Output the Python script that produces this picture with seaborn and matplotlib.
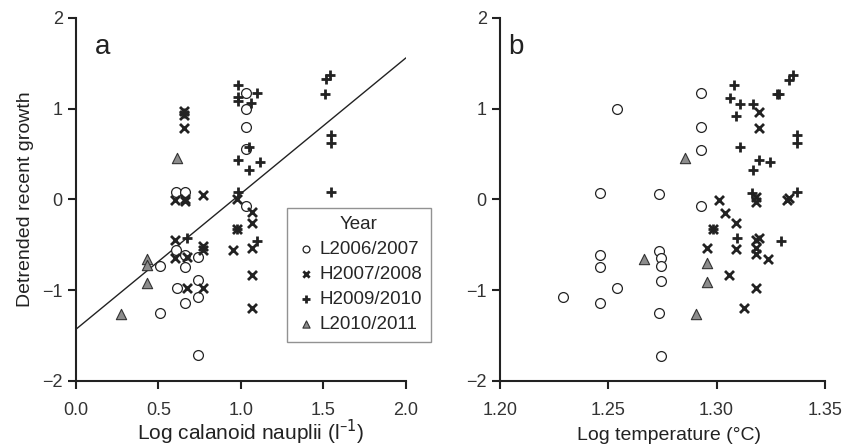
import numpy as np
import pandas as pd
import seaborn as sns
import matplotlib.pyplot as plt

groups = ['L2006/2007', 'H2007/2008', 'H2009/2010', 'L2010/2011']

# panel a: log calanoid nauplii vs detrended recent growth
a_l06_x = [0.606, 0.66, 0.606, 0.66, 0.66, 0.74, 0.51, 0.61, 0.74, 0.66, 0.74, 0.51, 0.74,
           1.03, 1.03, 1.03, 1.03, 1.03]
a_l06_y = [0.08, 0.08, -0.56, -0.61, -0.74, -0.63, -0.73, -0.97, -0.89, -1.14, -1.07, -1.25, -1.71,
           1.17, 1.0, 0.80, 0.56, -0.07]
a_h07_x = [0.656, 0.656, 0.656, 0.6, 0.66, 0.66, 0.77, 0.6, 0.6, 0.67, 0.77, 0.77, 0.67, 0.77,
           0.974, 1.065, 1.065, 0.974, 0.95, 1.065, 1.065, 1.065]
a_h07_y = [0.97, 0.93, 0.79, -0.01, 0.01, -0.02, 0.05, -0.45, -0.64, -0.63, -0.51, -0.56, -0.97, -0.97,
           0.01, -0.14, -0.26, -0.33, -0.56, -0.53, -0.83, -1.2]
a_h09_x = [0.98, 0.98, 0.98, 1.095, 1.06, 1.05, 0.98, 1.05, 1.115, 0.98,
           1.54, 1.515, 1.51, 1.543, 1.543, 1.543, 0.67, 1.1, 0.974, 0.656]
a_h09_y = [1.26, 1.13, 1.08, 1.17, 1.06, 0.58, 0.43, 0.32, 0.41, 0.08,
           1.37, 1.33, 1.16, 0.71, 0.62, 0.08, -0.42, -0.46, -0.33, 0.95]
a_l10_x = [0.614, 0.43, 0.43, 0.43, 0.27]
a_l10_y = [0.46, -0.66, -0.72, -0.92, -1.26]

# panel b: log temperature vs detrended recent growth
b_l06_x = [1.2463, 1.2463, 1.254, 1.2293, 1.2463, 1.254, 1.2463, 1.293, 1.293, 1.293,
           1.2736, 1.293, 1.2736, 1.2745, 1.2745, 1.2745, 1.2736, 1.2745]
b_l06_y = [-0.61, -0.74, -0.98, -1.08, -1.14, 1.0, 0.07, 1.17, 0.80, 0.55,
           0.06, -0.07, -0.57, -0.64, -0.73, -0.9, -1.25, -1.72]
b_h07_x = [1.3196, 1.3196, 1.301, 1.304, 1.3088, 1.2985, 1.318, 1.318, 1.3327, 1.3335, 1.3196,
           1.2957, 1.3088, 1.318, 1.318, 1.318, 1.3236, 1.3057, 1.318, 1.3126]
b_h07_y = [0.96, 0.79, -0.01, -0.15, -0.26, -0.33, 0.03, -0.03, -0.01, 0.02, -0.43,
           -0.54, -0.55, -0.45, -0.53, -0.6, -0.66, -0.83, -0.98, -1.2]
b_h09_x = [1.308, 1.3062, 1.311, 1.317, 1.309, 1.328, 1.329, 1.3355, 1.3335, 1.337, 1.337,
           1.311, 1.3196, 1.3245, 1.317, 1.3165, 1.337, 1.3096, 1.3299, 1.2985]
b_h09_y = [1.26, 1.12, 1.05, 1.05, 0.92, 1.16, 1.16, 1.37, 1.32, 0.71, 0.62,
           0.58, 0.43, 0.41, 0.32, 0.07, 0.08, -0.42, -0.46, -0.33]
b_l10_x = [1.2856, 1.2667, 1.2954, 1.2954, 1.2904]
b_l10_y = [0.46, -0.66, -0.70, -0.91, -1.26]

# fitted line in panel a (intercept, slope)
fit_a = [-1.43, 1.495]

sns.set_theme(style='ticks')
plt.rcParams['font.family'] = ['Liberation Sans', 'DejaVu Sans']

styles = {
    'L2006/2007': dict(marker='o', s=50, facecolor='white', edgecolor='#222222', linewidth=0.9),
    'H2007/2008': dict(marker='x', s=42, color='#222222', linewidth=2.0),
    'H2009/2010': dict(marker='+', s=55, color='#222222', linewidth=2.0),
    'L2010/2011': dict(marker='^', s=55, facecolor='#8c8c8c', edgecolor='#333333', linewidth=0.8),
}

fig = plt.figure(figsize=(8.46, 4.48), dpi=100)
ax_a = fig.add_axes([0.0898, 0.1496, 0.390, 0.8103])
ax_b = fig.add_axes([0.591, 0.1496, 0.384, 0.8103])

panel_a = [(a_l06_x, a_l06_y), (a_h07_x, a_h07_y), (a_h09_x, a_h09_y), (a_l10_x, a_l10_y)]
panel_b = [(b_l06_x, b_l06_y), (b_h07_x, b_h07_y), (b_h09_x, b_h09_y), (b_l10_x, b_l10_y)]

for ax, pts in [(ax_a, panel_a), (ax_b, panel_b)]:
    for g, (xs, ys) in zip(groups, pts):
        df = pd.DataFrame({'x': xs, 'y': ys})
        sns.scatterplot(data=df, x='x', y='y', ax=ax, label=g, legend=False, zorder=3, **styles[g])

xl = np.array([0.0, 2.0])
ax_a.plot(xl, fit_a[0] + fit_a[1] * xl, color='#222222', lw=1.0, zorder=2)

for ax in (ax_a, ax_b):
    ax.set_ylim(-2, 2)
    ax.set_yticks([-2, -1, 0, 1, 2])
    ax.set_yticklabels(['\u22122', '\u22121', '0', '1', '2'])
    sns.despine(ax=ax)
    for sp in ('left', 'bottom'):
        ax.spines[sp].set_linewidth(1.5)
        ax.spines[sp].set_color('#222222')
    ax.tick_params(axis='both', length=6, width=1.5, color='#222222', labelsize=13,
                   labelcolor='#333333')
    ax.tick_params(axis='x', pad=9)
    ax.set_ylabel('')

ax_a.set_xlim(0, 2)
ax_a.set_xticks([0.0, 0.5, 1.0, 1.5, 2.0])
ax_a.set_xticklabels(['0.0', '0.5', '1.0', '1.5', '2.0'])
ax_a.set_xlabel('Log calanoid nauplii (l$^{\u20131}$)', fontsize=15, color='#222222')
ax_a.set_ylabel('Detrended recent growth', fontsize=14, labelpad=6, color='#222222')

ax_b.set_xlim(1.20, 1.35)
ax_b.set_xticks([1.20, 1.25, 1.30, 1.35])
ax_b.set_xticklabels(['1.20', '1.25', '1.30', '1.35'])
ax_b.set_xlabel('Log temperature (\u00b0C)', fontsize=14, color='#222222')

# put the axis titles on a common baseline near the bottom edge
ax_a.xaxis.label.set_va('baseline')
ax_b.xaxis.label.set_va('baseline')
ax_a.xaxis.set_label_coords(0.53, -0.163)
ax_b.xaxis.set_label_coords(0.52, -0.163)

ax_a.text(0.16, 1.68, 'a', fontsize=20, color='#222222', va='center', ha='center')
ax_b.text(1.2074, 1.68, 'b', fontsize=20, color='#222222', va='center', ha='center')

leg = ax_a.legend(title='Year', loc='upper left', bbox_to_anchor=(0.639, 0.477),
                  borderaxespad=0, fontsize=13.5, title_fontsize=13.5, frameon=True,
                  fancybox=False, edgecolor='#777777', markerscale=0.7, handletextpad=0.1,
                  handlelength=1.2, labelspacing=0.42, borderpad=0.45)
leg.get_frame().set_linewidth(1.0)

fig.savefig('out.png', dpi=100)
